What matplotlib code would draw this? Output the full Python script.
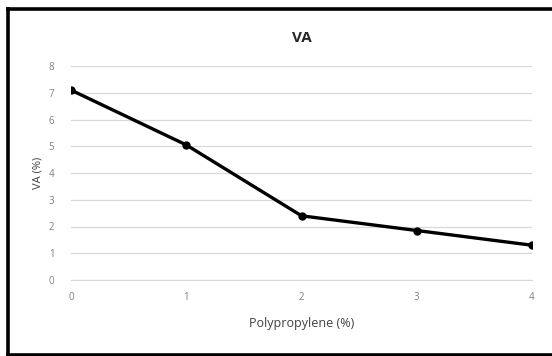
import matplotlib
matplotlib.use("Agg")
import matplotlib.pyplot as plt
from matplotlib.lines import Line2D

x_vals = [0, 1, 2, 3, 4]
va_vals = [7.1, 5.05, 2.4, 1.85, 1.3]
y_ticks = [0, 1, 2, 3, 4, 5, 6, 7, 8]

plt.rcParams['font.family'] = ['Open Sans', 'DejaVu Sans']

W, H = 552, 356
fig = plt.figure(figsize=(W/100, H/100), dpi=100)
ax = fig.add_axes([71/W, 1 - 280/H, (532-71)/W, (280-66)/H])

ax.plot(x_vals, va_vals, color='black', lw=2.4, marker='o', ms=5, zorder=3)
ax.set_xlim(0, 4)
ax.set_ylim(0, 8)
ax.set_yticks(y_ticks)
ax.set_xticks(x_vals)
ax.grid(axis='y', color='#d9d9d9', lw=0.9)
for s in ['top', 'right', 'left']:
    ax.spines[s].set_visible(False)
ax.spines['bottom'].set_color('#d9d9d9')
ax.tick_params(length=0, labelsize=7, colors='#7f7f7f', pad=9)
ax.tick_params(axis='y', pad=12)
ax.set_title('VA', fontsize=11, fontweight='bold', color='#262626', pad=17)
ax.set_xlabel('Polypropylene (%)', fontsize=9, color='#404040', labelpad=10)
ax.set_ylabel('VA (%)', fontsize=8, color='#404040', labelpad=4)

def fx(px):
    return px / W

def fy(py):
    return 1 - py / H

border = dict(color='black', lw=2.6, transform=fig.transFigure, zorder=10,
              solid_capstyle='projecting')
fig.lines.append(Line2D([fx(7.5), fx(7.5)], [fy(8.5), fy(354.5)], **border))
fig.lines.append(Line2D([fx(7.5), fx(552)], [fy(8.5), fy(8.5)], **border))
fig.lines.append(Line2D([fx(7.5), fx(552)], [fy(354.5), fy(354.5)], **border))

fig.savefig('out.png', dpi=100)
